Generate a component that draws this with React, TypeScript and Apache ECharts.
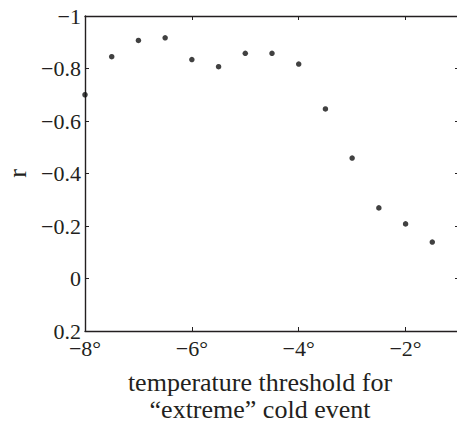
import React, { useEffect, useRef } from "react";
import * as echarts from "echarts";

const thresholds = [-8, -7.5, -7, -6.5, -6, -5.5, -5, -4.5, -4, -3.5, -3, -2.5, -2, -1.5];
const rValues = [-0.7, -0.845, -0.907, -0.917, -0.834, -0.807, -0.858, -0.858, -0.817, -0.646, -0.459, -0.269, -0.208, -0.139];
const xTitle = "temperature threshold for\n\u201Cextreme\u201D cold event";
const yTitle = "r";

const FONT = "'Liberation Serif', 'Times New Roman', serif";
const INK = "#231f20";

const fmtY = (v: number) => {
  const r = Math.round(v * 10) / 10;
  const s = Math.abs(r) < 1e-9 ? "0" : String(r);
  return s.replace("-", "\u2212");
};
const fmtX = (v: number) => String(Math.round(v)).replace("-", "\u2212") + "\u00B0";

export default function App() {
  const ref = useRef<HTMLDivElement>(null);
  useEffect(() => {
    if (!ref.current) return;
    const chart = echarts.init(ref.current, null, { renderer: "svg" });
    const line = { show: true, onZero: false, lineStyle: { color: INK, width: 1.4 } };
    const tick = { show: true, inside: true, length: 4, lineStyle: { color: INK, width: 1 } };
    const axisCommonX = {
      type: "value" as const,
      min: -8,
      max: -1,
      interval: 2,
      splitLine: { show: false },
      axisLine: line,
      axisTick: tick,
    };
    const axisCommonY = {
      type: "value" as const,
      min: -1,
      max: 0.2,
      interval: 0.2,
      inverse: true,
      splitLine: { show: false },
      axisLine: line,
      axisTick: tick,
    };
    chart.setOption({
      animation: false,
      backgroundColor: "#ffffff",
      grid: { left: 85, top: 16, right: 1, bottom: 95, containLabel: false, outerBoundsMode: "none" },
      xAxis: [
        {
          ...axisCommonX,
          position: "bottom",
          axisLabel: {
            show: true,
            showMaxLabel: false,
            formatter: fmtX,
            color: INK,
            fontFamily: FONT,
            fontSize: 22,
            lineHeight: 20,
            margin: 7,
          },
        },
        {
          ...axisCommonX,
          position: "top",
          axisLabel: { show: false },
        },
      ],
      yAxis: [
        {
          ...axisCommonY,
          position: "left",
          axisLabel: {
            show: true,
            formatter: fmtY,
            color: INK,
            fontFamily: FONT,
            fontSize: 22,
            lineHeight: 14,
            margin: 4,
          },
          name: yTitle,
          nameLocation: "middle",
          nameRotate: 90,
          nameGap: 55,
          nameTextStyle: { color: INK, fontFamily: FONT, fontSize: 26 },
        },
        {
          ...axisCommonY,
          position: "right",
          axisLabel: { show: false },
        },
      ],
      graphic: [
        {
          type: "text",
          x: 260,
          y: 369,
          style: {
            text: xTitle,
            fill: INK,
            font: `26px ${FONT}`,
            lineHeight: 27,
            textAlign: "center",
            textVerticalAlign: "top",
          },
        },
      ],
      series: [
        {
          type: "scatter",
          xAxisIndex: 0,
          yAxisIndex: 0,
          symbol: "circle",
          symbolSize: 5.5,
          itemStyle: { color: "#111111" },
          data: thresholds.map((t, i) => [t, rValues[i]]),
        },
      ],
    });
    return () => chart.dispose();
  }, []);
  return (
    <div style={{ position: "fixed", left: 0, top: 0, width: 457, height: 426, overflow: "hidden", background: "#fff" }}>
      <div ref={ref} style={{ width: 460, height: 426 }} />
    </div>
  );
}
